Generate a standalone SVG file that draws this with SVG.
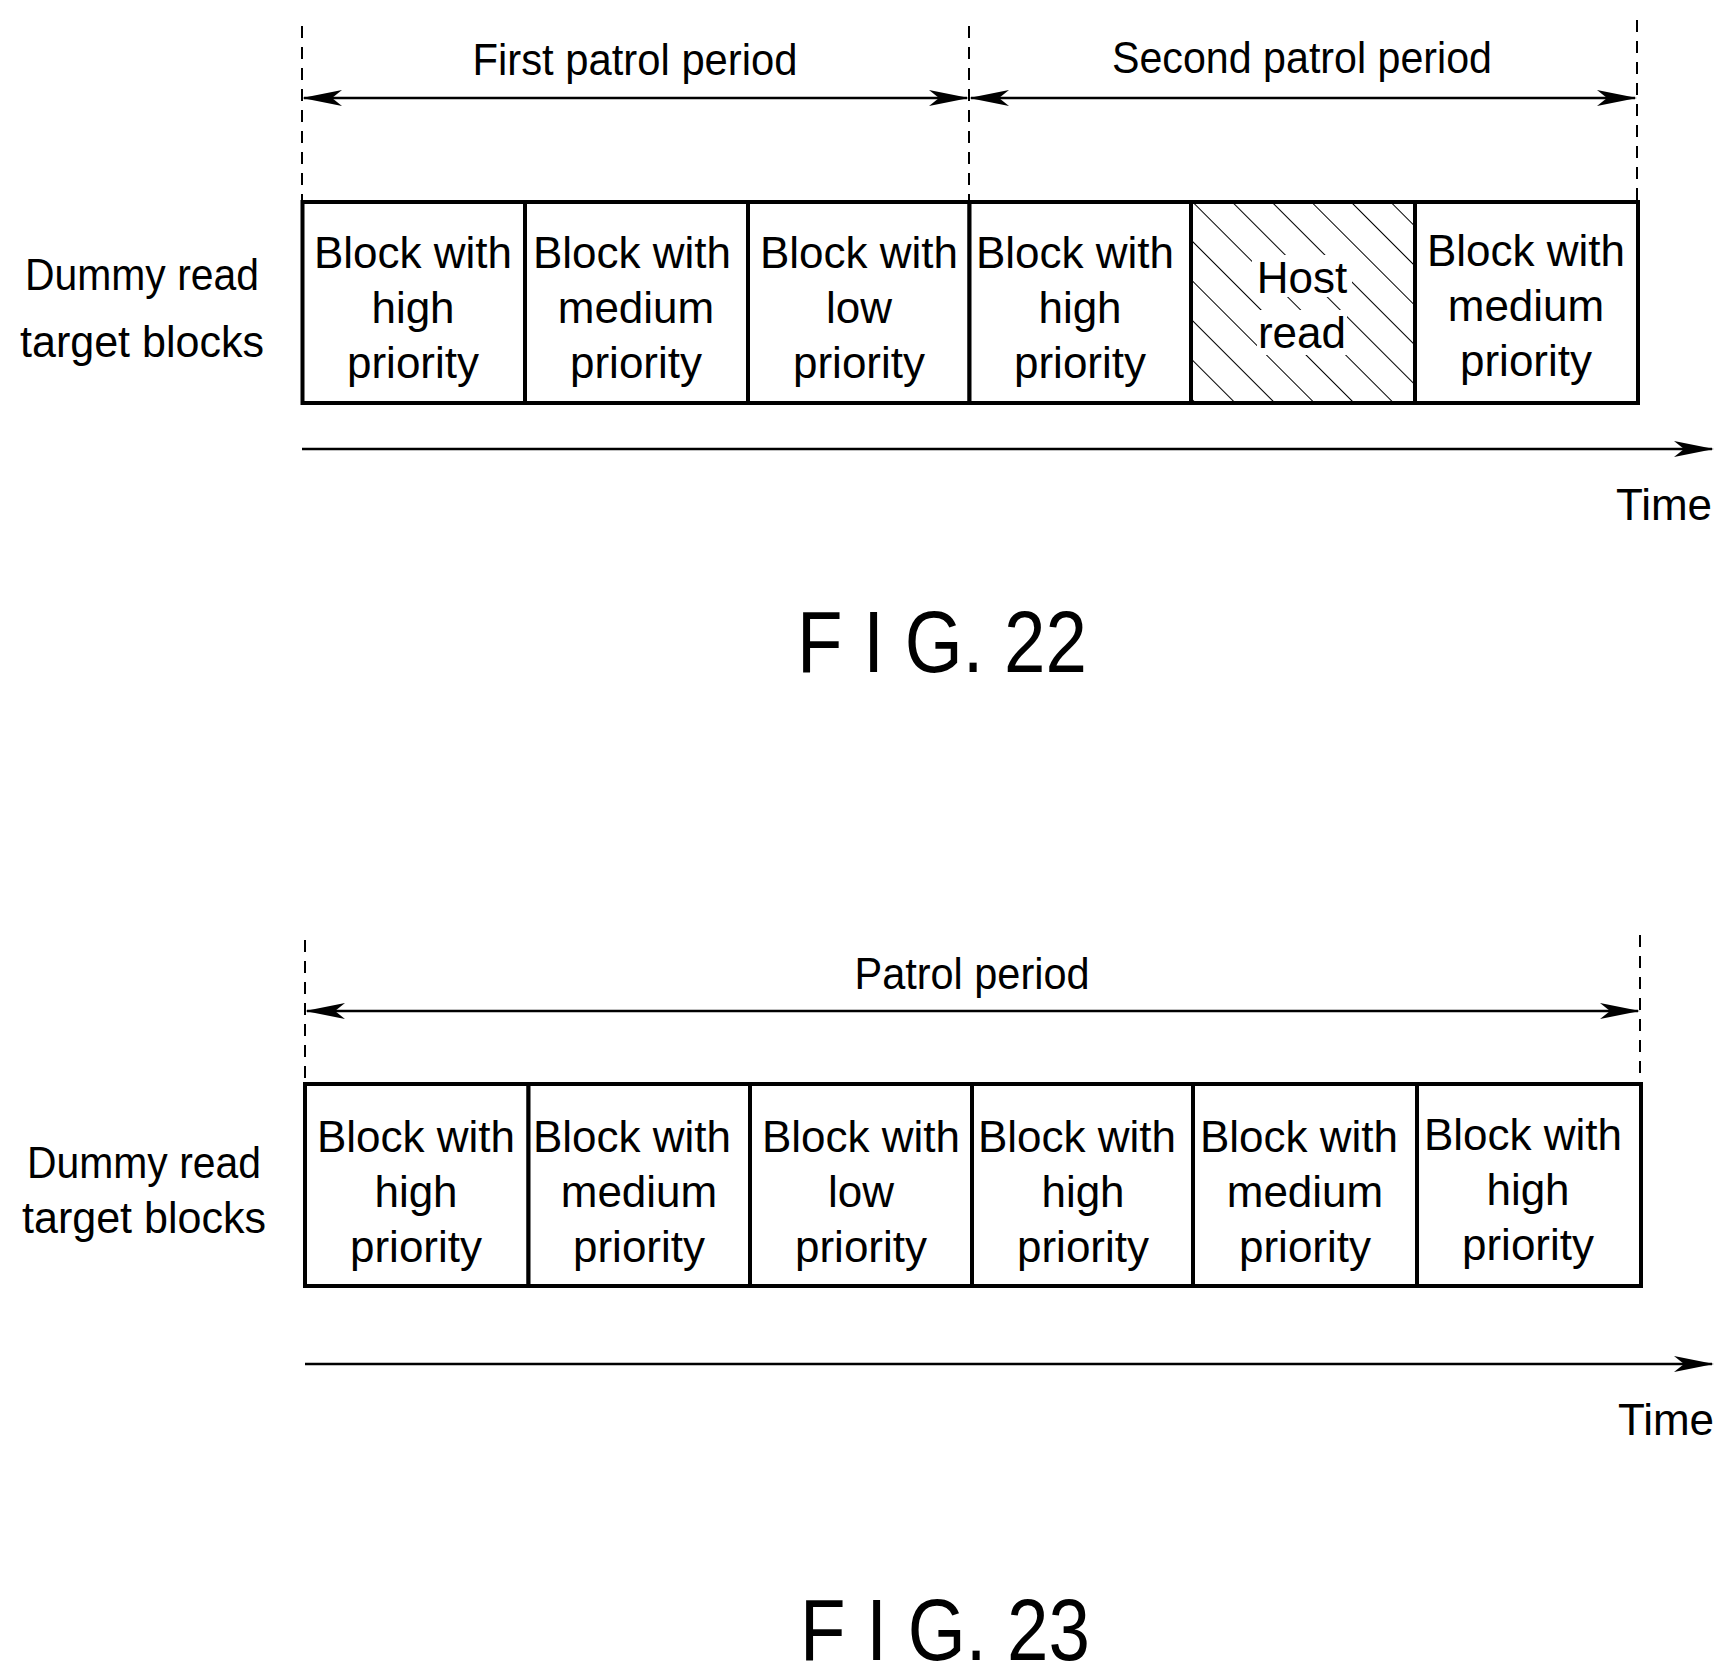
<svg xmlns="http://www.w3.org/2000/svg" width="1729" height="1677" viewBox="0 0 1729 1677">
<style>
text{font-family:"Liberation Sans",Arial,sans-serif;font-size:44px;fill:#000;text-anchor:middle}
.b{fill:#fff;stroke:#000;stroke-width:4}
.d{stroke:#000;stroke-width:2;stroke-dasharray:12,9}
.l{stroke:#000;stroke-width:2.5;fill:none}
.fig{font-size:88px}
</style>
<defs>
<marker id="a" markerWidth="40" markerHeight="16" refX="38" refY="8" orient="auto-start-reverse" markerUnits="userSpaceOnUse"><path d="M0,0 L40,8 L0,16 L10,8 Z" fill="#000"/></marker>
<pattern id="h" width="28" height="28" patternUnits="userSpaceOnUse" patternTransform="rotate(-45)"><line x1="0" y1="0" x2="0" y2="28" stroke="#000" stroke-width="2"/></pattern>
</defs>
<g id="connectors">
<line class="d" x1="302" y1="26" x2="302" y2="200"/>
<line class="d" x1="969" y1="26" x2="969" y2="200"/>
<line class="d" x1="1637" y1="20" x2="1637" y2="200"/>
<line class="l" x1="304" y1="98" x2="967" y2="98" marker-start="url(#a)" marker-end="url(#a)"/>
<line class="l" x1="971" y1="98" x2="1635" y2="98" marker-start="url(#a)" marker-end="url(#a)"/>
<line class="l" x1="302" y1="449" x2="1712" y2="449" marker-end="url(#a)"/>
<line class="d" x1="305" y1="940" x2="305" y2="1082"/>
<line class="d" x1="1640" y1="935" x2="1640" y2="1082"/>
<line class="l" x1="307" y1="1011" x2="1638" y2="1011" marker-start="url(#a)" marker-end="url(#a)"/>
<line class="l" x1="305" y1="1364" x2="1712" y2="1364" marker-end="url(#a)"/>
</g>
<g id="labels22">
<text x="635" y="75" textLength="325" lengthAdjust="spacingAndGlyphs">First patrol period</text>
<text x="1302" y="73" textLength="380" lengthAdjust="spacingAndGlyphs">Second patrol period</text>
<text x="142" y="290" textLength="234" lengthAdjust="spacingAndGlyphs">Dummy read</text>
<text x="142" y="357" textLength="244" lengthAdjust="spacingAndGlyphs">target blocks</text>
<text x="1664" y="520">Time</text>
<text class="fig" x="942" y="672" textLength="290" lengthAdjust="spacingAndGlyphs">F I G. 22</text>
</g>
<g id="n1"><rect class="b" x="302.5" y="202" width="222.5" height="201"/><text x="413" y="268">Block with</text><text x="413" y="323">high</text><text x="413" y="378">priority</text></g>
<g id="n2"><rect class="b" x="525" y="202" width="223" height="201"/><text x="632" y="268">Block with</text><text x="636" y="323">medium</text><text x="636" y="378">priority</text></g>
<g id="n3"><rect class="b" x="748" y="202" width="221.5" height="201"/><text x="859" y="268">Block with</text><text x="859" y="323">low</text><text x="859" y="378">priority</text></g>
<g id="n4"><rect class="b" x="969.5" y="202" width="221.5" height="201"/><text x="1075" y="268">Block with</text><text x="1080" y="323">high</text><text x="1080" y="378">priority</text></g>
<g id="n5"><rect class="b" x="1191" y="202" width="224" height="201" style="fill:url(#h)"/><rect x="1252" y="255" width="100" height="42" fill="#fff"/><rect x="1257" y="310" width="90" height="45" fill="#fff"/><rect class="b" x="1191" y="202" width="224" height="201" style="fill:none"/><text x="1302" y="293">Host</text><text x="1302" y="348">read</text></g>
<g id="n6"><rect class="b" x="1415" y="202" width="223" height="201"/><text x="1526" y="266">Block with</text><text x="1526" y="321">medium</text><text x="1526" y="376">priority</text></g>
<g id="labels23">
<text x="972" y="989" textLength="235" lengthAdjust="spacingAndGlyphs">Patrol period</text>
<text x="144" y="1178" textLength="234" lengthAdjust="spacingAndGlyphs">Dummy read</text>
<text x="144" y="1233" textLength="244" lengthAdjust="spacingAndGlyphs">target blocks</text>
<text x="1666" y="1435">Time</text>
<text class="fig" x="945" y="1660" textLength="290" lengthAdjust="spacingAndGlyphs">F I G. 23</text>
</g>
<g id="m1"><rect class="b" x="305" y="1084" width="223.5" height="202"/><text x="416" y="1152">Block with</text><text x="416" y="1207">high</text><text x="416" y="1262">priority</text></g>
<g id="m2"><rect class="b" x="528.5" y="1084" width="221.5" height="202"/><text x="632" y="1152">Block with</text><text x="639" y="1207">medium</text><text x="639" y="1262">priority</text></g>
<g id="m3"><rect class="b" x="750" y="1084" width="222" height="202"/><text x="861" y="1152">Block with</text><text x="861" y="1207">low</text><text x="861" y="1262">priority</text></g>
<g id="m4"><rect class="b" x="972" y="1084" width="221" height="202"/><text x="1077" y="1152">Block with</text><text x="1083" y="1207">high</text><text x="1083" y="1262">priority</text></g>
<g id="m5"><rect class="b" x="1193" y="1084" width="224" height="202"/><text x="1299" y="1152">Block with</text><text x="1305" y="1207">medium</text><text x="1305" y="1262">priority</text></g>
<g id="m6"><rect class="b" x="1417" y="1084" width="224" height="202"/><text x="1523" y="1150">Block with</text><text x="1528" y="1205">high</text><text x="1528" y="1260">priority</text></g>
</svg>
